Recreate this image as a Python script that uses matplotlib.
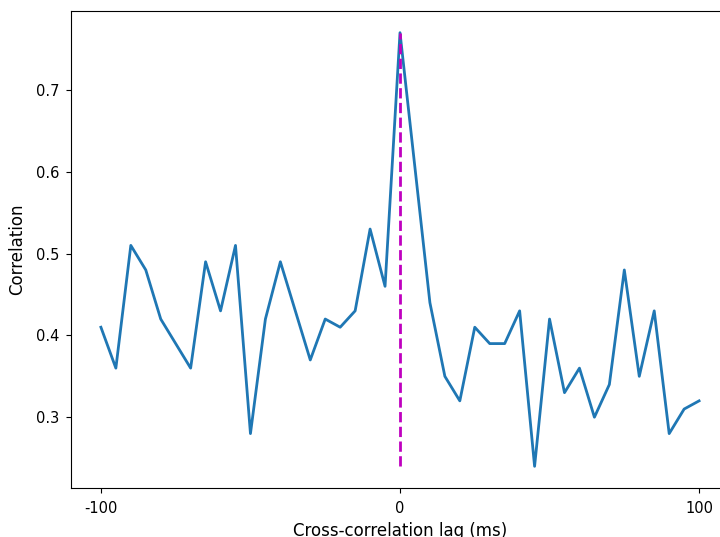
import matplotlib
matplotlib.use("Agg")
import matplotlib.pyplot as plt
import numpy as np

lags = list(range(-100, 101, 5))
corr = [0.41, 0.36, 0.51, 0.48, 0.42, 0.39, 0.36, 0.49, 0.43, 0.51,
        0.28, 0.42, 0.49, 0.43, 0.37, 0.42, 0.41, 0.43, 0.53, 0.46,
        0.77, 0.605, 0.44, 0.35, 0.32, 0.41, 0.39, 0.39, 0.43, 0.24,
        0.42, 0.33, 0.36, 0.30, 0.34, 0.48, 0.35, 0.43, 0.28, 0.31, 0.32]
xticks = [-100, 0, 100]
xtick_labels = ["-100", "0", "100"]

fig = plt.figure(figsize=(7.2, 5.37), dpi=100)
ax = fig.add_axes([71/720, 49/537, 658/720, 477/537])
ax.plot(lags, corr, color="#1f77b4", linewidth=2)
ax.vlines(0, min(corr), max(corr), colors="m", linestyles="--", linewidth=2)
ax.set_xlim(-110, 110)
ax.set_xticks(xticks)
ax.set_xticklabels(xtick_labels)
ax.tick_params(axis="x", labelsize=10.5, pad=6)
ax.tick_params(axis="y", labelsize=10.5, pad=5)
ax.spines["right"].set_visible(False)
ax.set_xlabel("Cross-correlation lag (ms)", fontsize=12, labelpad=4)
ax.set_ylabel("Correlation", fontsize=12, labelpad=7)
fig.savefig("out.png", dpi=100)
